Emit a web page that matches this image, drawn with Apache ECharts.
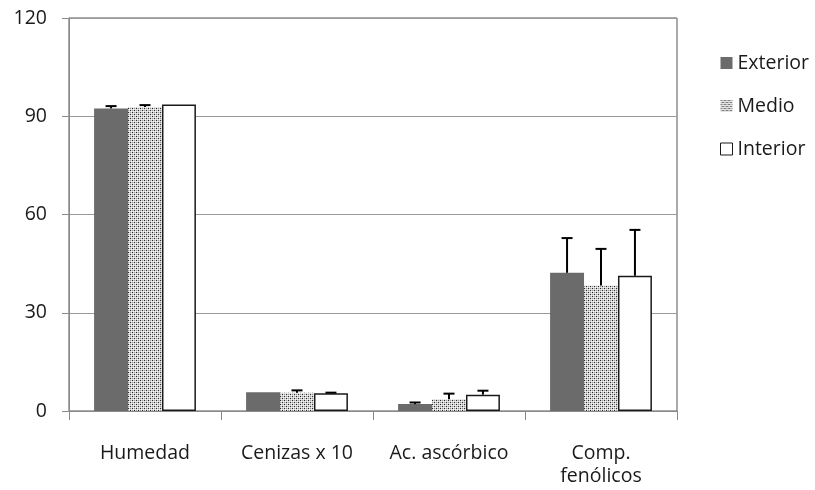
<!DOCTYPE html>
<html>
<head>
<meta charset="utf-8">
<script src="https://cdn.jsdelivr.net/npm/echarts@6/dist/echarts.min.js"></script>
<style>
html,body{margin:0;padding:0;background:#fff;}
#chart{width:815px;height:490px;}
</style>
</head>
<body>
<div id="chart"></div>
<script>
const categories = ['Humedad', 'Cenizas x 10', 'Ac. ascórbico', 'Comp.\nfenólicos'];
const seriesNames = ['Exterior', 'Medio', 'Interior'];
const exterior = [92.4, 5.7, 2.1, 42.2];
const medio = [92.8, 5.6, 3.6, 38.3];
const interior = [93.6, 5.4, 5.0, 41.3];
const exteriorErr = [0.7, 0, 0.5, 10.6];
const medioErr = [0.6, 0.7, 1.7, 11.2];
const interiorErr = [0, 0.2, 1.2, 14.0];
const yTicks = [0, 30, 60, 90, 120];

const FONT = '"Open Sans", sans-serif';
const GAP = 0.33;

// dotted pattern for "Medio"
function makePattern() {
  const c = document.createElement('canvas');
  c.width = 4; c.height = 4;
  const ctx = c.getContext('2d');
  ctx.fillStyle = '#d4d4d4';
  ctx.fillRect(0, 0, 4, 4);
  ctx.fillStyle = '#2a2a2a';
  ctx.fillRect(0, 0, 1, 1);
  ctx.fillRect(2, 2, 1, 1);
  ctx.fillStyle = '#9a9a9a';
  ctx.fillRect(2, 0, 1, 1);
  ctx.fillRect(0, 2, 1, 1);
  ctx.fillStyle = '#f4f4f4';
  ctx.fillRect(1, 1, 1, 1);
  ctx.fillRect(3, 3, 1, 1);
  ctx.fillRect(1, 3, 1, 1);
  ctx.fillRect(3, 1, 1, 1);
  return c;
}
const pattern = {image: makePattern(), repeat: 'repeat'};

const values = [exterior, medio, interior];
const errs = [exteriorErr, medioErr, interiorErr];
const styles = [
  {color: '#6b6b6b'},
  {color: pattern},
  {color: '#ffffff', borderColor: '#1a1a1a', borderWidth: 1.5}
];

function errRender(idx) {
  return function (params, api) {
    const err = api.value(2);
    if (!err) return null;
    const base = api.coord([api.value(0), api.value(1)]);
    const top = api.coord([api.value(0), api.value(1) + err]);
    const bw = api.size([1, 0])[0];
    const barW = bw * (1 - GAP) / 3;
    const x = base[0] + (idx - 1) * barW;
    const st = {stroke: '#000', lineWidth: 2};
    return {
      type: 'group',
      children: [
        {type: 'line', shape: {x1: x, y1: base[1], x2: x, y2: top[1]}, style: st},
        {type: 'line', shape: {x1: x - 5.5, y1: top[1], x2: x + 5.5, y2: top[1]}, style: st}
      ]
    };
  };
}

const series = [];
seriesNames.forEach(function (name, i) {
  series.push({
    name: name,
    type: 'bar',
    data: values[i],
    barGap: '0%',
    barCategoryGap: (GAP * 100) + '%',
    itemStyle: styles[i],
    emphasis: {disabled: true},
    z: 2
  });
});
seriesNames.forEach(function (name, i) {
  series.push({
    name: name + '_err',
    type: 'custom',
    renderItem: errRender(i),
    data: values[i].map(function (v, k) { return [k, v, errs[i][k]]; }),
    z: 5,
    silent: true
  });
});

const chart = echarts.init(document.getElementById('chart'), null, {renderer: 'canvas'});
chart.setOption({
  animation: false,
  backgroundColor: '#ffffff',
  grid: {
    left: 69, right: 138, top: 18, bottom: 79,
    show: true, borderColor: '#555555', borderWidth: 1, backgroundColor: 'transparent'
  },
  legend: {
    data: [
      {name: seriesNames[0]},
      {name: seriesNames[1]},
      {name: seriesNames[2], itemStyle: {borderWidth: 1, borderColor: '#1a1a1a', color: '#ffffff'}}
    ],
    orient: 'vertical',
    left: 715,
    top: 48,
    itemWidth: 12,
    itemHeight: 12,
    itemGap: 23,
    icon: 'rect',
    textStyle: {fontFamily: FONT, fontSize: 19.5, color: '#1a1a1a', lineHeight: 20, padding: [0, 0, 0, 0]}
  },
  xAxis: {
    type: 'category',
    data: categories,
    axisLine: {lineStyle: {color: '#8a8a8a', width: 1}},
    axisTick: {show: true, length: 9, lineStyle: {color: '#8a8a8a'}},
    axisLabel: {fontFamily: FONT, fontSize: 19.5, color: '#1a1a1a', margin: 31, lineHeight: 23, interval: 0},
    splitLine: {show: false}
  },
  yAxis: {
    type: 'value',
    min: yTicks[0],
    max: yTicks[yTicks.length - 1],
    interval: yTicks[1] - yTicks[0],
    axisLine: {show: true, lineStyle: {color: '#8a8a8a', width: 1}},
    axisTick: {show: true, length: 7, lineStyle: {color: '#8a8a8a'}},
    axisLabel: {fontFamily: FONT, fontSize: 19.5, color: '#1a1a1a', margin: 22},
    splitLine: {show: true, lineStyle: {color: '#9a9a9a', width: 1}}
  },
  series: series
});
</script>
</body>
</html>
